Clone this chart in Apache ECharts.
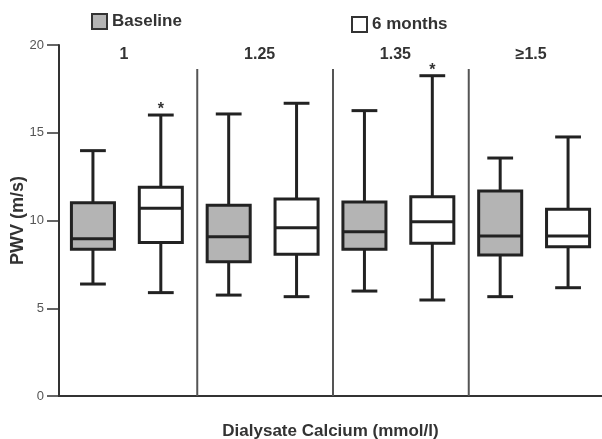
<!DOCTYPE html>
<html><head><meta charset="utf-8">
<script src="https://cdn.jsdelivr.net/npm/echarts@6/dist/echarts.min.js"></script>
<style>html,body{margin:0;padding:0;background:#fff}#c{width:602px;height:439px}</style>
</head><body><div id="c"></div>
<script>
// Dialysate calcium groups (mmol/l)
const groups = ['1', '1.25', '1.35', '\u22651.5'];
// Each box: [low whisker, Q1, median, Q3, high whisker]  (PWV, m/s)
const baseline = [
  [6.38, 8.36, 8.96, 11.01, 13.98],
  [5.75, 7.65, 9.08, 10.87, 16.07],
  [5.98, 8.36, 9.36, 11.05, 16.26],
  [5.66, 8.03, 9.12, 11.68, 13.56]
];
const sixMonths = [
  [5.89, 8.74, 10.70, 11.89, 16.01],
  [5.66, 8.07, 9.59, 11.23, 16.68],
  [5.47, 8.70, 9.93, 11.36, 18.25],
  [6.17, 8.51, 9.12, 10.64, 14.76]
];
const sixMonthsMarks = ['*', '', '*', ''];
const yMin = 0, yMax = 20, yStep = 5;

const FONT = '"Liberation Sans", Arial, Helvetica, sans-serif';
const chart = echarts.init(document.getElementById('c'), null, {renderer: 'canvas'});

function boxRenderer(side, fill, marks) {
  return function (params, api) {
    const idx = api.value(0);
    const c = api.coord([idx, 0]);
    const band = api.size([1, 0])[0];
    const x = c[0] + side * band / 4;
    const bw = band * 0.317, cw = band * 0.19;
    const y = [1, 2, 3, 4, 5].map(d => api.coord([idx, api.value(d)])[1]);
    const ls = {stroke: '#222', lineWidth: 3};
    const children = [
      {type: 'line', shape: {x1: x, y1: y[4], x2: x, y2: y[3]}, style: ls},
      {type: 'line', shape: {x1: x, y1: y[1], x2: x, y2: y[0]}, style: ls},
      {type: 'line', shape: {x1: x - cw / 2, y1: y[4], x2: x + cw / 2, y2: y[4]}, style: ls},
      {type: 'line', shape: {x1: x - cw / 2, y1: y[0], x2: x + cw / 2, y2: y[0]}, style: ls},
      {type: 'rect', shape: {x: x - bw / 2, y: y[3], width: bw, height: y[1] - y[3]},
        style: {fill: fill, stroke: '#222', lineWidth: 3}},
      {type: 'line', shape: {x1: x - bw / 2, y1: y[2], x2: x + bw / 2, y2: y[2]}, style: ls}
    ];
    if (marks && marks[params.dataIndex]) {
      children.push({type: 'text', style: {
        text: marks[params.dataIndex], x: x, y: y[4] - 5,
        align: 'center', verticalAlign: 'middle',
        font: 'bold 16px ' + FONT, fill: '#333'}});
    }
    return {type: 'group', children: children};
  };
}

const legendText = {fontWeight: 'bold', fontSize: 17, color: '#333', fontFamily: FONT};

chart.setOption({
  animation: false,
  textStyle: {fontFamily: FONT},
  grid: {left: 59, right: 0, top: 45, bottom: 43, containLabel: false, outerBoundsMode: 'none'},
  legend: [
    {data: [{name: 'Baseline', icon: 'rect',
      itemStyle: {color: '#b4b4b4', borderColor: '#333', borderWidth: 2}}],
      left: 91, top: 13, padding: 0, itemWidth: 15, itemHeight: 15,
      selectedMode: false, textStyle: legendText},
    {data: [{name: '6 months', icon: 'rect',
      itemStyle: {color: '#fff', borderColor: '#333', borderWidth: 2}}],
      left: 351, top: 16, padding: 0, itemWidth: 15, itemHeight: 15,
      selectedMode: false, textStyle: legendText}
  ],
  xAxis: {
    type: 'category', data: groups, boundaryGap: true,
    axisLine: {lineStyle: {color: '#333', width: 2}},
    axisTick: {show: false}, axisLabel: {show: false}, splitLine: {show: false},
    name: 'Dialysate Calcium (mmol/l)', nameLocation: 'middle', nameGap: 27,
    nameMoveOverlap: false,
    nameTextStyle: {fontWeight: 'bold', fontSize: 17, color: '#333', fontFamily: FONT}
  },
  yAxis: {
    type: 'value', min: yMin, max: yMax, interval: yStep,
    axisLine: {show: true, lineStyle: {color: '#333', width: 2}},
    axisTick: {show: true, length: 12, lineStyle: {color: '#333', width: 1.5}},
    axisLabel: {margin: 15, color: '#555', fontSize: 13, fontFamily: FONT},
    splitLine: {show: false},
    name: 'PWV (m/s)', nameLocation: 'middle', nameGap: 32, nameRotate: 90,
    nameMoveOverlap: false,
    nameTextStyle: {fontWeight: 'bold', fontSize: 18, color: '#333', fontFamily: FONT}
  },
  series: [
    {
      type: 'custom', name: 'dividers', silent: true,
      data: groups.slice(1).map((g, i) => [i + 1]),
      encode: {x: 0},
      renderItem: function (params, api) {
        const idx = api.value(0);
        const c = api.coord([idx, yMin]);
        const band = api.size([1, 0])[0];
        const x = c[0] - band / 2 + 2.5;
        const top = api.coord([idx, yMax])[1] + 24;
        return {type: 'line', shape: {x1: x, y1: top, x2: x, y2: c[1]},
          style: {stroke: '#555', lineWidth: 2}};
      }
    },
    {
      type: 'custom', name: 'groupLabels', silent: true,
      data: groups.map((g, i) => [i]),
      encode: {x: 0},
      renderItem: function (params, api) {
        const idx = api.value(0);
        const c = api.coord([idx, yMax]);
        return {type: 'text', style: {text: groups[idx], x: c[0] - 3, y: c[1] + 9.5,
          align: 'center', verticalAlign: 'middle', font: 'bold 16px ' + FONT, fill: '#333'}};
      }
    },
    {
      type: 'custom', name: 'Baseline',
      data: baseline.map((v, i) => [i].concat(v)),
      encode: {x: 0, y: [1, 2, 3, 4, 5]},
      renderItem: boxRenderer(-1, '#b4b4b4', null)
    },
    {
      type: 'custom', name: '6 months',
      data: sixMonths.map((v, i) => [i].concat(v)),
      encode: {x: 0, y: [1, 2, 3, 4, 5]},
      renderItem: boxRenderer(1, '#ffffff', sixMonthsMarks)
    }
  ]
});
</script>
</body></html>
